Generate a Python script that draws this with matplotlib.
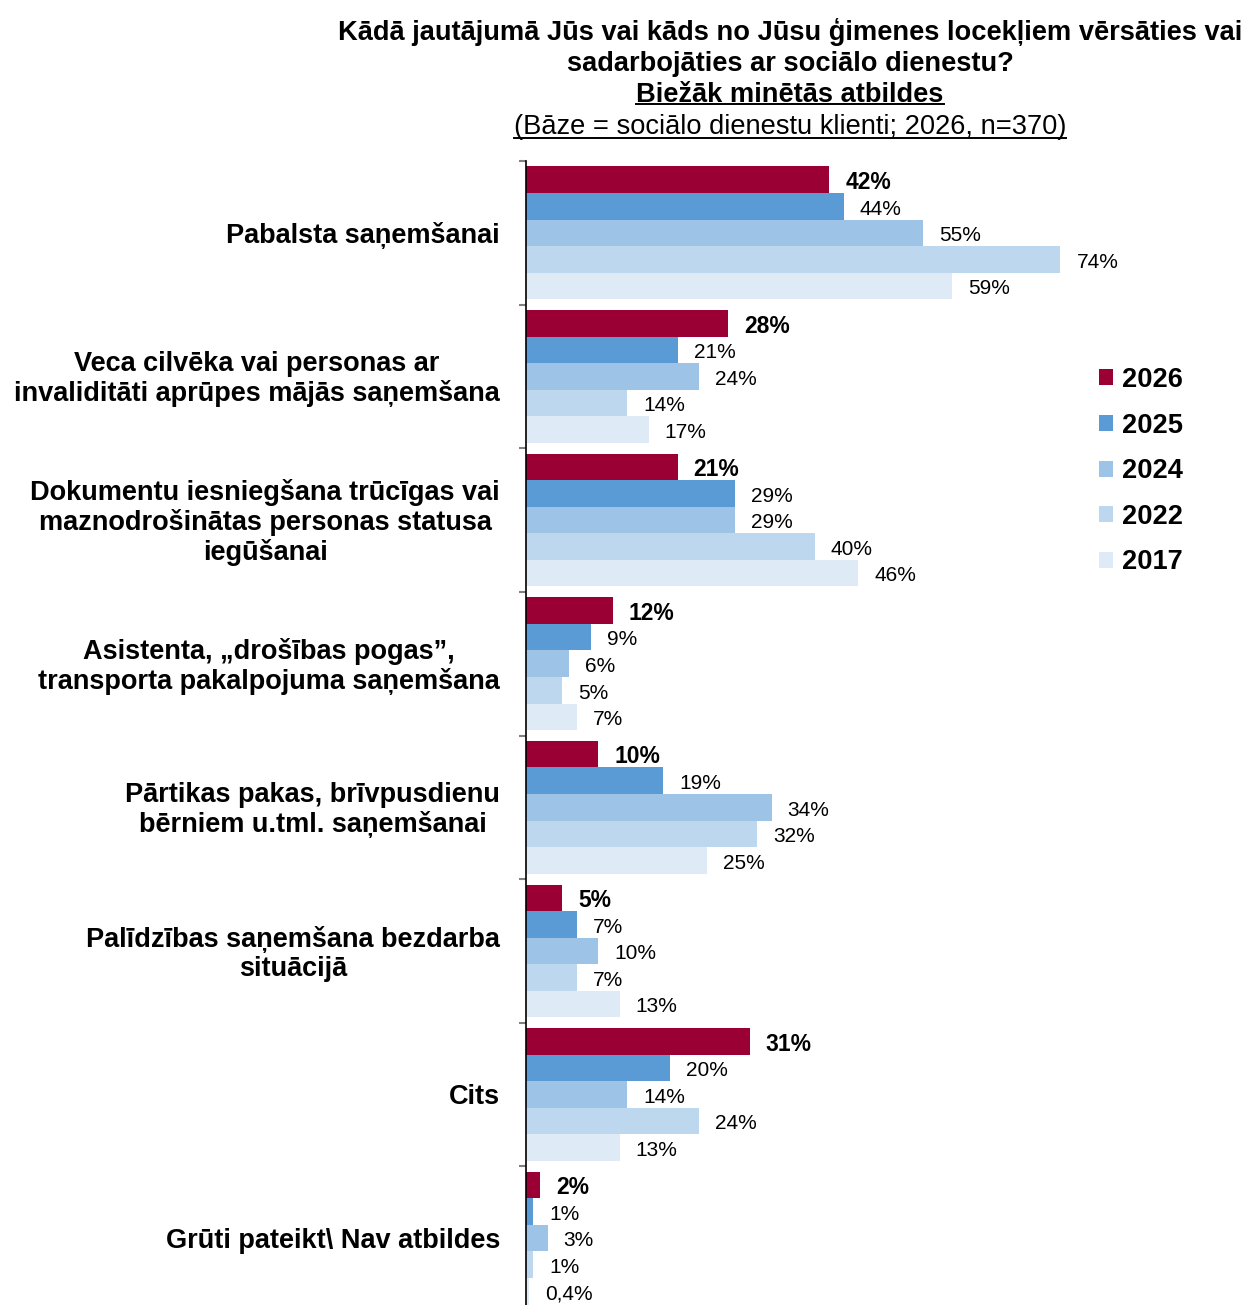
import matplotlib
matplotlib.use("Agg")
import matplotlib.pyplot as plt
from matplotlib.patches import Rectangle
from matplotlib.lines import Line2D
import numpy as np

categories = [
    "Pabalsta saņemšanai",
    "Veca cilvēka vai personas ar\ninvaliditāti aprūpes mājās saņemšana",
    "Dokumentu iesniegšana trūcīgas vai\nmaznodrošinātas personas statusa\niegūšanai",
    "Asistenta, „drošības pogas”,\ntransporta pakalpojuma saņemšana",
    "Pārtikas pakas, brīvpusdienu\nbērniem u.tml. saņemšanai",
    "Palīdzības saņemšana bezdarba\nsituācijā",
    "Cits",
    "Grūti pateikt\\ Nav atbildes",
]
years = ["2026", "2025", "2024", "2022", "2017"]
v2026 = [42, 28, 21, 12, 10, 5, 31, 2]
v2025 = [44, 21, 29, 9, 19, 7, 20, 1]
v2024 = [55, 24, 29, 6, 34, 10, 14, 3]
v2022 = [74, 14, 40, 5, 32, 7, 24, 1]
v2017 = [59, 17, 46, 7, 25, 13, 13, 0.4]
series = [v2026, v2025, v2024, v2022, v2017]
colors = ["#9B0034", "#5B9BD5", "#9DC3E6", "#BDD7EE", "#DEEAF6"]

title_lines = [
    "Kādā jautājumā Jūs vai kāds no Jūsu ģimenes locekļiem vērsāties vai",
    "sadarbojāties ar sociālo dienestu?",
    "Biežāk minētās atbildes",
    "(Bāze = sociālo dienestu klienti; 2026, n=370)",
]

plt.rcParams["font.family"] = ["Liberation Sans", "DejaVu Sans"]

W, H = 1246, 1305
fig = plt.figure(figsize=(W / 100, H / 100), dpi=100)
ax = fig.add_axes([526 / W, -5 / H, 650 / W, 1149 / H])

n = len(categories)
bh = 0.185
y0 = np.arange(n)
for i, (vals, col, yr) in enumerate(zip(series, colors, years)):
    ys = y0 + (i - 2) * bh
    ax.barh(ys, vals, height=bh, color=col, edgecolor="none", label=yr)
    for y, v in zip(ys, vals):
        txt = (f"{v:g}".replace(".", ",")) + "%"
        ax.annotate(txt, xy=(v, y), xytext=(11.5, -2), textcoords="offset points",
                    ha="left", va="center",
                    fontsize=16.5 if i == 0 else 15,
                    fontweight="bold" if i == 0 else "normal", color="black")

ax.set_xlim(0, 90)
ax.set_ylim(n - 0.5, -0.5)
ax.set_yticks(np.arange(-0.5, n, 1.0))
ax.set_yticklabels([])
ax.tick_params(axis="y", direction="out", length=5, width=1.5, color="#808080")
ax.set_xticks([])
for s in ["top", "right", "bottom"]:
    ax.spines[s].set_visible(False)
ax.spines["left"].set_color("black")
ax.spines["left"].set_linewidth(1.2)

for y, lab in zip(y0, categories):
    ax.annotate(lab, xy=(0, y), xycoords=("axes fraction", "data"),
                xytext=(-18.7, -2), textcoords="offset points",
                ha="right", va="center", multialignment="center",
                fontsize=19.5, fontweight="bold", linespacing=1.15)

handles = [Rectangle((0, 0), 1, 1, facecolor=c, edgecolor="none") for c in colors]
leg = fig.legend(handles, years, loc="upper left",
                 bbox_to_anchor=(1099 / W, 1 - 367 / H),
                 frameon=False, prop={"weight": "bold", "size": 19.6},
                 handlelength=0.53, handleheight=0.53, handletextpad=0.3,
                 labelspacing=0.72, borderpad=0, borderaxespad=0)

ty = [32, 64, 95, 127]
tw = ["bold", "bold", "bold", "normal"]
texts = []
for line, y, w in zip(title_lines, ty, tw):
    t = fig.text(790 / W, 1 - y / H, line, ha="center", va="center",
                 fontsize=19.6, fontweight=w)
    texts.append(t)

fig.canvas.draw()
r = fig.canvas.get_renderer()
for t, ypx in zip(texts[2:], [104, 138]):
    bb = t.get_window_extent(r)
    fig.add_artist(Line2D([bb.x0 / W, bb.x1 / W], [1 - ypx / H, 1 - ypx / H],
                          transform=fig.transFigure, color="black", linewidth=1.4))

fig.savefig("out.png", dpi=100)
